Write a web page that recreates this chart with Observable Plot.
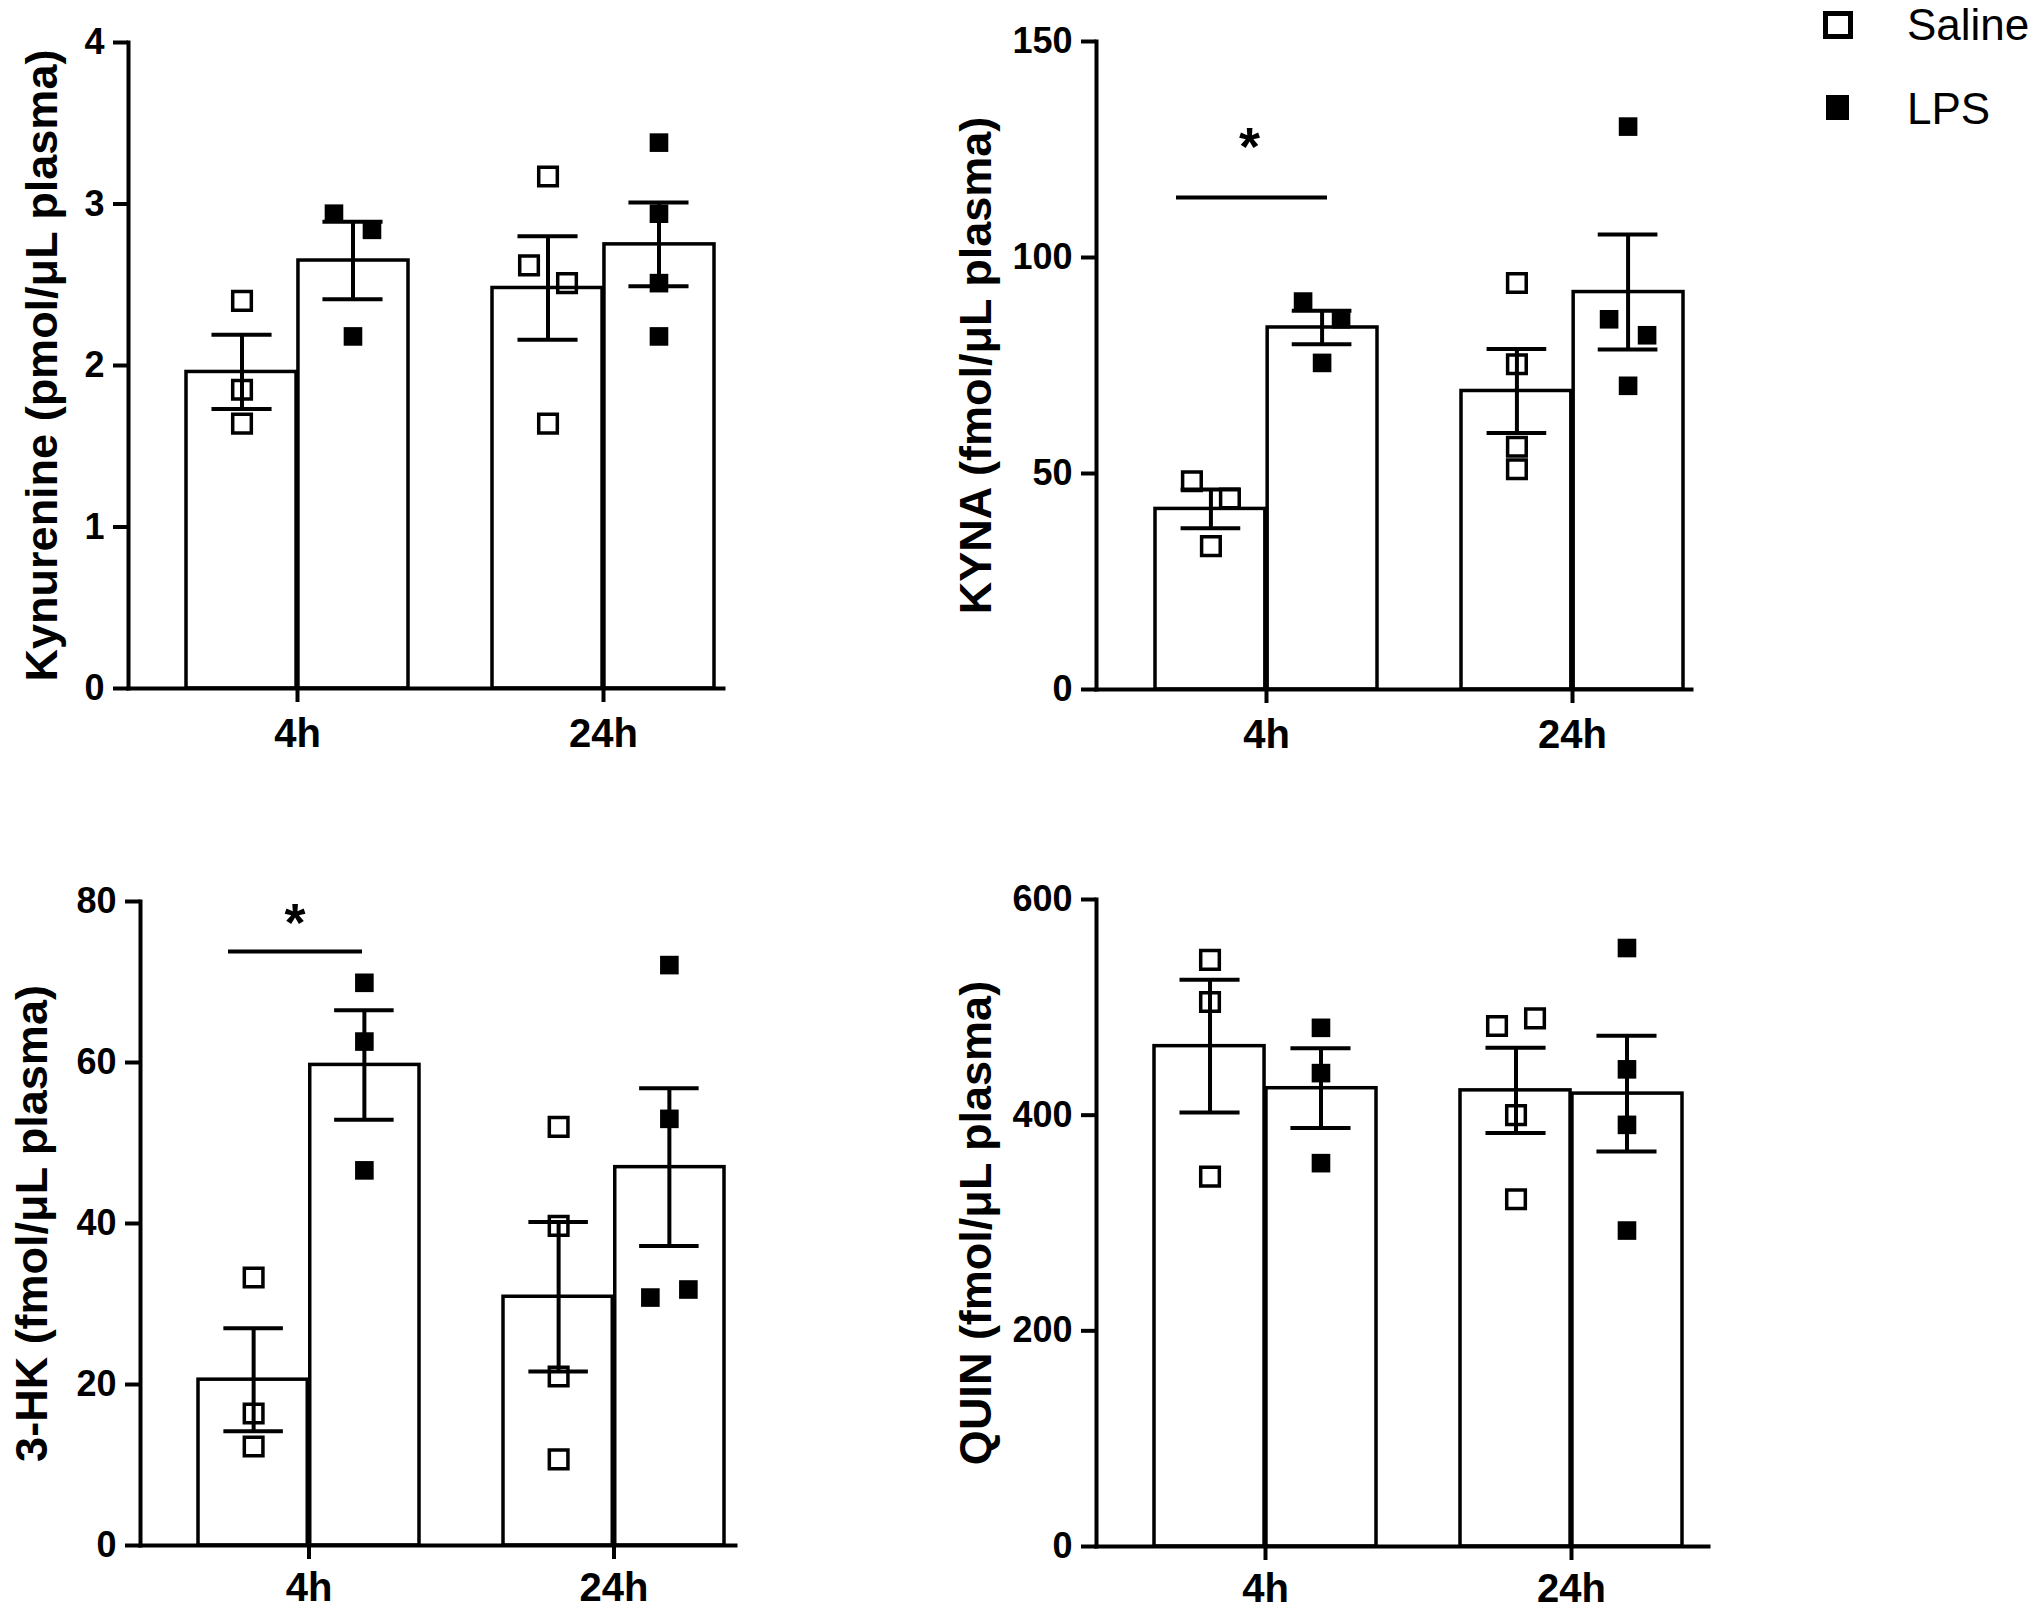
<!DOCTYPE html>
<html><head><meta charset="utf-8">
<script src="https://cdn.jsdelivr.net/npm/d3@7"></script>
<script src="https://cdn.jsdelivr.net/npm/@observablehq/plot@0.6"></script>
<style>
body{margin:0;background:#fff;}
#wrap{position:relative;width:2040px;height:1611px;overflow:hidden;background:#fff;font-family:"Liberation Sans",Arial,sans-serif;}
.panel{position:absolute;}
.panel svg{max-width:none !important;display:block;}
.leg{position:absolute;font-size:44px;line-height:44px;color:#000;white-space:nowrap;font-family:"Liberation Sans",Arial,sans-serif;}
</style></head><body><div id="wrap"></div>
<script>
// ---------- data ----------
const times = ["4h", "24h"];
const groups = ["Saline", "LPS"];

// Kynurenine (pmol/uL plasma)
const kynLabel = "Kynurenine (pmol/μL plasma)";
const kynTicks = [0, 1, 2, 3, 4];
const kynSalineMean = [1.96, 2.48];
const kynSalineSem = [0.23, 0.32];
const kynLpsMean = [2.65, 2.75];
const kynLpsSem = [0.24, 0.26];
const kynSaline4h = [2.40, 1.85, 1.64];
const kynSaline24h = [3.17, 2.62, 2.51, 1.64];
const kynLps4h = [2.94, 2.84, 2.18];
const kynLps24h = [3.38, 2.94, 2.51, 2.18];

// KYNA (fmol/uL plasma)
const kynaLabel = "KYNA (fmol/μL plasma)";
const kynaTicks = [0, 50, 100, 150];
const kynaSalineMean = [41.8, 69.1];
const kynaSalineSem = [4.5, 9.7];
const kynaLpsMean = [83.8, 92.0];
const kynaLpsSem = [3.9, 13.3];
const kynaSaline4h = [48.2, 44.2, 33.2];
const kynaSaline24h = [94.1, 75.3, 56.2, 51.0];
const kynaLps4h = [89.8, 85.7, 75.6];
const kynaLps24h = [130.3, 85.7, 82.0, 70.3];
const kynaSig = [{time: "4h", line: 113.9, star: 127.4}];

// 3-HK (fmol/uL plasma)
const hkLabel = "3-HK (fmol/μL plasma)";
const hkTicks = [0, 20, 40, 60, 80];
const hkSalineMean = [20.6, 30.9];
const hkSalineSem = [6.4, 9.3];
const hkLpsMean = [59.7, 47.0];
const hkLpsSem = [6.8, 9.8];
const hkSaline4h = [33.3, 16.4, 12.3];
const hkSaline24h = [52.0, 39.7, 21.0, 10.7];
const hkLps4h = [69.9, 62.6, 46.6];
const hkLps24h = [72.1, 53.0, 30.8, 31.8];
const hkSig = [{time: "4h", line: 73.8, star: 78.3}];

// QUIN (fmol/uL plasma)
const quinLabel = "QUIN (fmol/μL plasma)";
const quinTicks = [0, 200, 400, 600];
const quinSalineMean = [464, 423];
const quinSalineSem = [61.5, 39.5];
const quinLpsMean = [425, 420];
const quinLpsSem = [37, 53.6];
const quinSaline4h = [544, 505, 343];
const quinSaline24h = [482.7, 489.8, 400, 322];
const quinLps4h = [481, 439, 355.5];
const quinLps24h = [555, 442.5, 391, 293];

// ---------- drawing ----------
const FONT = "Liberation Sans, Arial, Helvetica, sans-serif";
const wrap = document.getElementById("wrap");

function panel(o) {
  const pi = 0.275;
  const bw = (o.xRange[1] - o.xRange[0]) / (2 - pi) * (1 - pi);
  const plotH = o.height - o.mt - o.mb;
  const pxPerUnit = plotH / o.yMax;
  const bars = [];
  times.forEach((t, i) => {
    bars.push({time: t, group: "Saline", mean: o.salMean[i], sem: o.salSem[i]});
    bars.push({time: t, group: "LPS", mean: o.lpsMean[i], sem: o.lpsSem[i]});
  });
  const pts = [];
  const addPts = (arr, time, group) => {
    const list = arr.map(v => ({time, group, value: v, jit: 0}));
    for (let i = 1; i < list.length; i++) {
      if (list[i - 1].jit === 0 && Math.abs(list[i].value - list[i - 1].value) * pxPerUnit < 20) {
        list[i - 1].jit = -1; list[i].jit = 1;
      }
    }
    pts.push(...list);
  };
  addPts(o.sal4h, "4h", "Saline"); addPts(o.sal24h, "24h", "Saline");
  addPts(o.lps4h, "4h", "LPS"); addPts(o.lps24h, "24h", "LPS");

  const marks = [];
  const off = {Saline: -bw / 4, LPS: bw / 4};
  // bars
  marks.push(Plot.barY(bars.filter(d => d.group === "Saline"), {x: "time", y: "mean", fill: "white", stroke: "black", strokeWidth: 3.5, insetRight: bw / 2 + 1, insetLeft: 0}));
  marks.push(Plot.barY(bars.filter(d => d.group === "LPS"), {x: "time", y: "mean", fill: "white", stroke: "black", strokeWidth: 3.5, insetLeft: bw / 2 + 1, insetRight: 0}));
  // points
  for (const g of groups) {
    for (const j of [-1, 0, 1]) {
      const sub = pts.filter(d => d.group === g && d.jit === j);
      if (!sub.length) continue;
      marks.push(Plot.dot(sub, {
        x: "time", y: "value", symbol: "square", r: 10.5, dx: off[g] + j * 19,
        fill: g === "Saline" ? "none" : "black",
        stroke: g === "Saline" ? "black" : "none", strokeWidth: 3.5
      }));
    }
  }
  // error bars
  for (const g of groups) {
    const sub = bars.filter(d => d.group === g);
    const c = g === "Saline" ? bw / 4 : 3 * bw / 4;
    marks.push(Plot.ruleX(sub, {x: "time", y1: d => d.mean - d.sem, y2: d => d.mean + d.sem, dx: off[g], strokeWidth: 4, stroke: "black"}));
    marks.push(Plot.tickY(sub, {x: "time", y: d => d.mean + d.sem, insetLeft: c - 30, insetRight: bw - c - 30, strokeWidth: 4, stroke: "black"}));
    marks.push(Plot.tickY(sub, {x: "time", y: d => d.mean - d.sem, insetLeft: c - 30, insetRight: bw - c - 30, strokeWidth: 4, stroke: "black"}));
  }
  // significance
  if (o.sig) {
    marks.push(Plot.tickY(o.sig, {x: "time", y: "line", insetLeft: o.sigInset[0], insetRight: o.sigInset[1], strokeWidth: 4, stroke: "black"}));
    marks.push(Plot.text(o.sig, {x: "time", y: "star", text: () => "*", dx: o.starDx, dy: 9, fontSize: 54, fontWeight: "bold", fill: "black"}));
  }
  // axes
  marks.push(Plot.axisY({ticks: o.yTicks, tickSize: 15, tickPadding: 9, fontSize: 36, fontWeight: "bold", strokeWidth: 4, label: null, tickFormat: d => String(d)}));
  marks.push(Plot.axisX({tickSize: 14, tickPadding: o.xPad, fontSize: 40, fontWeight: "bold", strokeWidth: 4, label: null}));
  marks.push(Plot.frame({anchor: "left", strokeWidth: 4, stroke: "black"}));
  marks.push(Plot.frame({anchor: "bottom", strokeWidth: 4, stroke: "black"}));
  marks.push(Plot.text([o.label], {text: d => d, frameAnchor: "left", rotate: -90, dx: o.labelDx, lineAnchor: "bottom", textAnchor: "middle", fontSize: 45, fontWeight: "bold", fill: "black"}));

  const svg = Plot.plot({
    width: o.width, height: o.height,
    marginLeft: o.ml, marginTop: o.mt, marginRight: o.mr, marginBottom: o.mb,
    style: {fontFamily: FONT, fontWeight: "bold", color: "black", background: "transparent", overflow: "visible"},
    x: {domain: times, range: o.xRange, paddingInner: pi, paddingOuter: 0},
    y: {domain: [0, o.yMax], nice: false},
    marks
  });
  const div = document.createElement("div");
  div.className = "panel";
  div.style.left = o.left + "px";
  div.style.top = o.top + "px";
  div.appendChild(svg);
  wrap.appendChild(div);
}

panel({left: 0, top: 0, width: 760, height: 780, ml: 128, mt: 42, mr: 37, mb: 92, xRange: [186, 714], xPad: 16,
  yMax: 4, yTicks: kynTicks, label: kynLabel, labelDx: -72,
  salMean: kynSalineMean, salSem: kynSalineSem, lpsMean: kynLpsMean, lpsSem: kynLpsSem,
  sal4h: kynSaline4h, sal24h: kynSaline24h, lps4h: kynLps4h, lps24h: kynLps24h});

panel({left: 940, top: 0, width: 800, height: 780, ml: 156, mt: 41, mr: 49, mb: 91, xRange: [214, 743], xPad: 16,
  yMax: 150, yTicks: kynaTicks, label: kynaLabel, labelDx: -106,
  salMean: kynaSalineMean, salSem: kynaSalineSem, lpsMean: kynaLpsMean, lpsSem: kynaLpsSem,
  sal4h: kynaSaline4h, sal24h: kynaSaline24h, lps4h: kynaLps4h, lps24h: kynaLps24h,
  sig: kynaSig, sigInset: [21, 50], starDx: -17});

panel({left: 0, top: 820, width: 760, height: 791, ml: 140, mt: 81, mr: 25, mb: 66, xRange: [198, 725], xPad: 13,
  yMax: 80, yTicks: hkTicks, label: hkLabel, labelDx: -94,
  salMean: hkSalineMean, salSem: hkSalineSem, lpsMean: hkLpsMean, lpsSem: hkLpsSem,
  sal4h: hkSaline4h, sal24h: hkSaline24h, lps4h: hkLps4h, lps24h: hkLps24h,
  sig: hkSig, sigInset: [30, 57], starDx: -14});

panel({left: 940, top: 820, width: 800, height: 791, ml: 156, mt: 79, mr: 32, mb: 65, xRange: [214, 742], xPad: 13,
  yMax: 600, yTicks: quinTicks, label: quinLabel, labelDx: -106,
  salMean: quinSalineMean, salSem: quinSalineSem, lpsMean: quinLpsMean, lpsSem: quinLpsSem,
  sal4h: quinSaline4h, sal24h: quinSaline24h, lps4h: quinLps4h, lps24h: quinLps24h});

// ---------- legend ----------
const legend = [
  {name: "Saline", box: "left:1823px;top:11px;width:30px;height:28px;border:5.5px solid #000;box-sizing:border-box;background:#fff;", textTop: 3},
  {name: "LPS", box: "left:1826px;top:95px;width:23px;height:25px;background:#000;", textTop: 87}
];
for (const l of legend) {
  const b = document.createElement("div");
  b.className = "leg"; b.style.cssText += l.box;
  wrap.appendChild(b);
  const t = document.createElement("div");
  t.className = "leg"; t.textContent = l.name;
  t.style.left = "1907px"; t.style.top = l.textTop + "px";
  wrap.appendChild(t);
}
</script></body></html>
